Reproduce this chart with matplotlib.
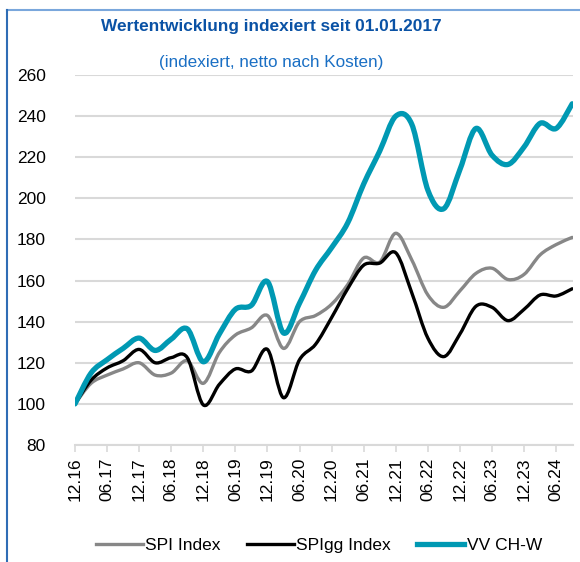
import numpy as np
import matplotlib
matplotlib.use("Agg")
import matplotlib.pyplot as plt
from matplotlib.path import Path
from matplotlib.patches import PathPatch
from matplotlib.lines import Line2D

# Quarterly points, Dec 2016 .. Sep 2024 (index 0 = 12.16)
quarters = ["12.16", "03.17", "06.17", "09.17", "12.17", "03.18", "06.18", "09.18",
            "12.18", "03.19", "06.19", "09.19", "12.19", "03.20", "06.20", "09.20",
            "12.20", "03.21", "06.21", "09.21", "12.21", "03.22", "06.22", "09.22",
            "12.22", "03.23", "06.23", "09.23", "12.23", "03.24", "06.24", "09.24"]
spi = [100, 110, 114, 117, 120, 114, 115, 121, 110, 125, 133.5, 137, 143, 127, 140, 143,
       148.5, 158, 171, 169, 183, 170, 153, 147, 155, 163.5, 166, 160.5, 163, 172.5, 177.5, 181]
spigg = [100, 111.5, 117.5, 121, 126.5, 120, 122.5, 122.5, 99.5, 109.5, 117, 116, 126.5, 103, 121.5, 129,
         142, 156, 167.5, 168.5, 173.5, 154, 132, 123, 134, 147.5, 147, 140.5, 146, 153, 152.5, 156]
vv = [100, 115, 121.5, 127, 132, 126, 131.5, 136.5, 120.5, 134, 146, 148, 159.5, 134.5, 149, 165,
      176, 188, 207, 223, 240, 236, 204, 195, 214, 234, 221, 216.5, 225, 236.5, 234, 246]
series_names = ["SPI Index", "SPIgg Index", "VV CH-W"]
tick_labels = quarters[::2]
yticks = [80, 100, 120, 140, 160, 180, 200, 220, 240, 260]

FONT = ["Liberation Sans", "DejaVu Sans"]
plt.rcParams["font.family"] = FONT

fig = plt.figure(figsize=(5.8, 5.62), dpi=100)
ax = fig.add_axes([75/580, 1-445/562, (573-75)/580, (445-75)/562])


def smooth_path(xs, ys):
    xs = np.asarray(xs, float)
    ys = np.asarray(ys, float)
    n = len(xs)
    verts = [(xs[0], ys[0])]
    codes = [Path.MOVETO]
    for i in range(n - 1):
        p0 = (xs[max(i-1, 0)], ys[max(i-1, 0)])
        p1 = (xs[i], ys[i])
        p2 = (xs[i+1], ys[i+1])
        p3 = (xs[min(i+2, n-1)], ys[min(i+2, n-1)])
        c1 = (p1[0] + (p2[0]-p0[0])/6, p1[1] + (p2[1]-p0[1])/6)
        c2 = (p2[0] - (p3[0]-p1[0])/6, p2[1] - (p3[1]-p1[1])/6)
        verts += [c1, c2, p2]
        codes += [Path.CURVE4] * 3
    return Path(verts, codes)


x = np.arange(len(quarters))
colors = ["#878787", "#000000", "#0099b3"]
widths = [2.4, 2.4, 3.8]
for data, c, w in zip([spi, spigg, vv], colors, widths):
    patch = PathPatch(smooth_path(x, data), facecolor="none", edgecolor=c, lw=w,
                      capstyle="round", joinstyle="round", zorder=3)
    ax.add_patch(patch)

ax.set_xlim(0, 31.05)
ax.set_ylim(80, 260)
ax.set_yticks(yticks)
ax.set_yticklabels([str(v) for v in yticks], fontsize=12.5)
ax.set_xticks(x[::2])
ax.set_xticklabels(tick_labels, rotation=90, fontsize=12.5)
ax.yaxis.grid(True, color="#d9d9d9", lw=1.5)
ax.set_axisbelow(True)
for s in ["left", "right", "top"]:
    ax.spines[s].set_visible(False)
ax.spines["bottom"].set_color("#d9d9d9")
ax.spines["bottom"].set_linewidth(1.5)
ax.tick_params(axis="y", length=0, pad=21)
ax.tick_params(axis="x", length=5, width=1.2, color="#d9d9d9", pad=4)

fig.text(271/580, 1-27/562, "Wertentwicklung indexiert seit 01.01.2017", ha="center", va="center",
         fontsize=12.4, fontweight="bold", color="#0a52a5")
fig.text(271/580, 1-62/562, "(indexiert, netto nach Kosten)", ha="center", va="center",
         fontsize=12.3, color="#1a6fc4")

handles = [Line2D([], [], color=c, lw=w) for c, w in zip(colors, widths)]
fig.legend(handles, series_names, loc="center", bbox_to_anchor=(319/580, 1-545/562), ncol=3,
           frameon=False, fontsize=12.5, handlelength=2.7, handletextpad=0.15, columnspacing=1.5)

fig.add_artist(Line2D([7/580, 1], [1-10/562, 1-10/562], color="#7aa7dc", lw=1.5))
fig.add_artist(Line2D([7/580, 7/580], [1-10/562, 0], color="#2f6db5", lw=1.5))

fig.savefig("out.png", dpi=100)
